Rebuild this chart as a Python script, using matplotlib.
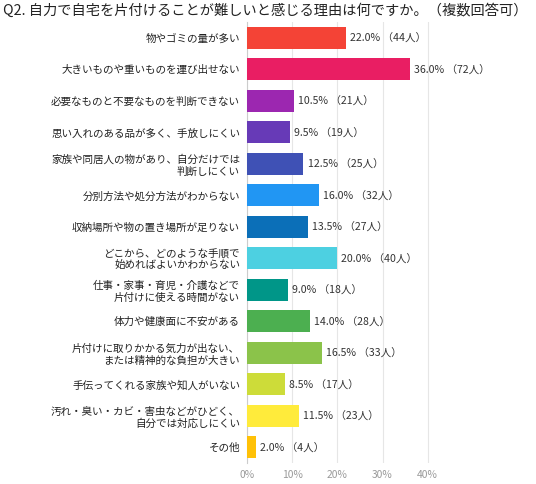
import matplotlib.pyplot as plt

plt.rcParams['font.family'] = ['Noto Sans CJK JP', 'DejaVu Sans']

# reasons, percentages and counts (top to bottom)
reasons = [
    '物やゴミの量が多い',
    '大きいものや重いものを運び出せない',
    '必要なものと不要なものを判断できない',
    '思い入れのある品が多く、手放しにくい',
    '家族や同居人の物があり、自分だけでは\n判断しにくい',
    '分別方法や処分方法がわからない',
    '収納場所や物の置き場所が足りない',
    'どこから、どのような手順で\n始めればよいかわからない',
    '仕事・家事・育児・介護などで\n片付けに使える時間がない',
    '体力や健康面に不安がある',
    '片付けに取りかかる気力が出ない、\nまたは精神的な負担が大きい',
    '手伝ってくれる家族や知人がいない',
    '汚れ・臭い・カビ・害虫などがひどく、\n自分では対応しにくい',
    'その他',
]
percent = [22.0, 36.0, 10.5, 9.5, 12.5, 16.0, 13.5, 20.0, 9.0, 14.0, 16.5, 8.5, 11.5, 2.0]
counts = [44, 72, 21, 19, 25, 32, 27, 40, 18, 28, 33, 17, 23, 4]
colors = ['#F44336', '#E91E63', '#9C27B0', '#673AB7', '#3F51B5', '#2196F3', '#0B6FB8',
          '#4DD0E1', '#009688', '#4CAF50', '#8BC34A', '#CDDC39', '#FFEB3B', '#FFC107']
xticks = [0, 10, 20, 30, 40]

fig = plt.figure(figsize=(5.36, 4.84), dpi=100)
ax = fig.add_axes([247 / 536, 1 - 463 / 484, 201 / 536, 441 / 484])

y = list(range(len(reasons)))
ax.barh(y, percent, height=0.7, color=colors, zorder=3)
for yi, p, c in zip(y, percent, counts):
    ax.text(p + 0.9, yi, f'{p:.1f}% （{c}人）', va='center', ha='left', fontsize=7.6, color='#333333')

ax.set_ylim(13.5, -0.5)
ax.set_xlim(0, 44.5)
ax.set_yticks(y)
ax.set_yticklabels(reasons, fontsize=7.6, color='#222222', linespacing=1.2)
ax.set_xticks(xticks)
ax.set_xticklabels([f'{t}%' for t in xticks], fontsize=7.4, color='#999999')
ax.tick_params(axis='both', length=0, pad=5)
ax.grid(axis='x', color='#E6E6E6', linewidth=0.8, zorder=0)
for s in ['top', 'right', 'bottom']:
    ax.spines[s].set_visible(False)
ax.spines['left'].set_color('#CCCCCC')

fig.text(3 / 536, 1 - 11 / 484, 'Q2. 自力で自宅を片付けることが難しいと感じる理由は何ですか。（複数回答可）',
         fontsize=10.25, va='center', ha='left', color='#222222')

fig.savefig('out.png', dpi=100)
